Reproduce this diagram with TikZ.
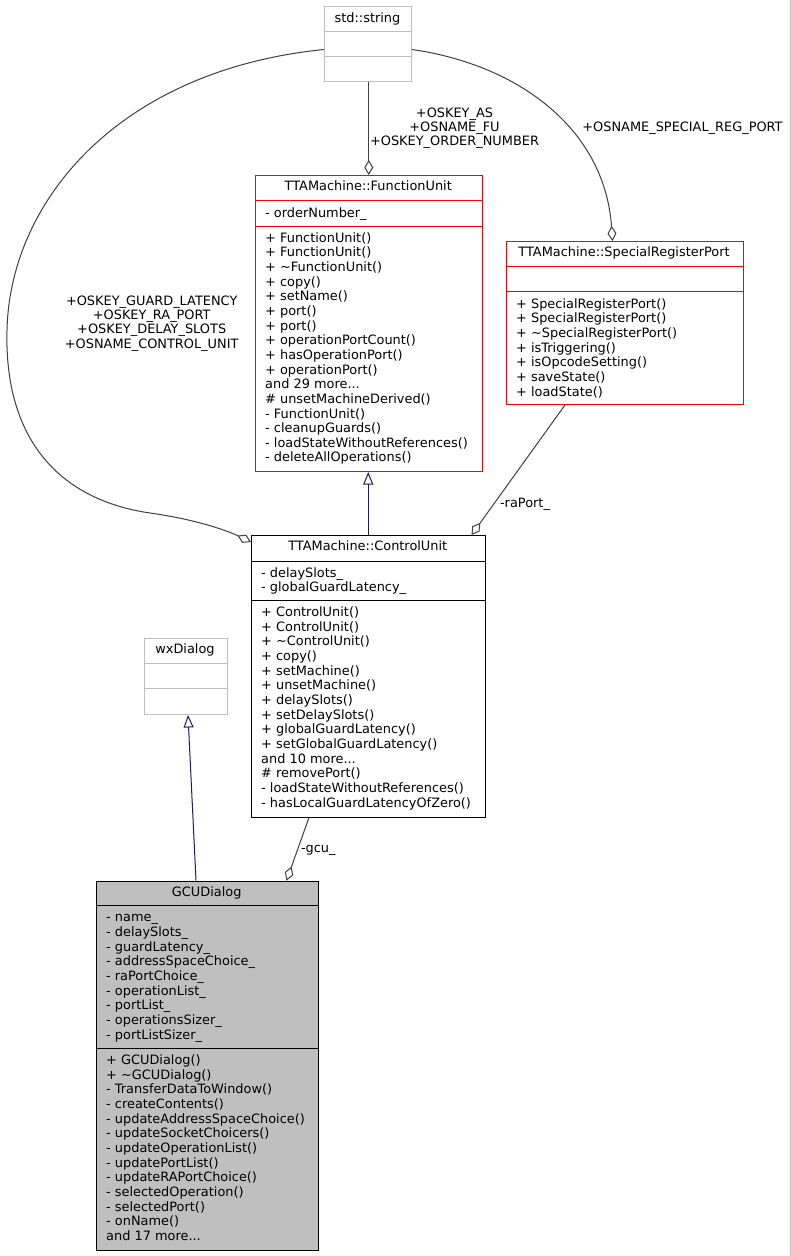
\documentclass[tikz,border=0pt]{standalone}
\usepackage{fontspec}
\setmainfont{DejaVu Sans}
\usetikzlibrary{arrows.meta,calc}
\definecolor{edgegray}{HTML}{404040}
\definecolor{boxgray}{HTML}{BFBFBF}
\definecolor{fillgray}{HTML}{BFBFBF}
\definecolor{navyline}{HTML}{191970}
\definecolor{redline}{HTML}{FF0000}
\tikzset{
  txt/.style={inner sep=0pt, font=\fontsize{12.9pt}{14.65pt}\selectfont, text=black},
  classbox/.style={draw, line width=1pt, inner sep=0pt, anchor=north west},
  edge/.style={draw=edgegray, line width=1pt},
  inherit/.style={draw=navyline, line width=1pt, -{Triangle[open, length=12.5pt, width=10pt]}},
  aggr/.style={-{Diamond[open, length=15pt, width=9pt]}},
  aggrs/.style={{Diamond[open, length=15pt, width=9pt]}-},
}
\newcommand\mlines[4]{%
  \foreach \t [count=\i from 0] in {#4}
    \node[txt, anchor=base west] (#1-\i) at (#2, #3+\i*14.65) {\t};}
\newcommand\clines[4]{%
  \foreach \t [count=\i from 0] in {#4}
    \node[txt, anchor=base] (#1-\i) at (#2, #3+\i*14.45) {\t};}
\begin{document}
\begin{tikzpicture}[x=1pt,y=-1pt]
\useasboundingbox (0,0) rectangle (791,1256);
\fill[white] (0,0) rectangle (791,1256);
\draw[boxgray, line width=1pt] (790.5,0) -- (790.5,1256);

% std::string
\node[classbox, draw=boxgray, minimum width=87pt, minimum height=75pt] (str) at (324,6) {};
\draw[boxgray, line width=1pt] (324,31.5) -- (411,31.5) (324,56.5) -- (411,56.5);
\node[txt, anchor=base] (strt) at (367.5,22) {std::string};

% FunctionUnit
\node[classbox, draw=redline, minimum width=226.5pt, minimum height=296pt] (fu) at (255,175) {};
\draw[redline, line width=1pt] (255,200.7) -- (481.5,200.7) (255,226) -- (481.5,226);
\node[txt, anchor=base] (fut) at (368.25,190.5) {TTAMachine::FunctionUnit};
\mlines{fua}{265}{217}{- orderNumber\_}
\mlines{fum}{265}{242.2}{+ FunctionUnit(), + FunctionUnit(), + \textasciitilde FunctionUnit(), + copy(), + setName(), + port(), + port(), + operationPortCount(), + hasOperationPort(), + operationPort(), {and 29 more.{}..}, \# unsetMachineDerived(), - FunctionUnit(), - cleanupGuards(), - loadStateWithoutReferences(), - deleteAllOperations()}

% SpecialRegisterPort
\node[classbox, draw=redline, minimum width=237pt, minimum height=163pt] (srp) at (505.5,241) {};
\draw[redline, line width=1pt] (505.5,266) -- (742.5,266) (505.5,291.7) -- (742.5,291.7);
\node[txt, anchor=base] (srpt) at (624,256.5) {TTAMachine::SpecialRegisterPort};
\mlines{srpm}{516}{308.2}{+ SpecialRegisterPort(), + SpecialRegisterPort(), + \textasciitilde SpecialRegisterPort(), + isTriggering(), + isOpcodeSetting(), + saveState(), + loadState()}

% ControlUnit
\node[classbox, draw=black, minimum width=233.5pt, minimum height=281.5pt] (cu) at (251,535) {};
\draw[black, line width=1pt] (251,561) -- (484.5,561) (251,600.3) -- (484.5,600.3);
\node[txt, anchor=base] (cut) at (367.75,550.7) {TTAMachine::ControlUnit};
\mlines{cua}{261}{577}{- delaySlots\_, - globalGuardLatency\_}
\mlines{cum}{261}{616.6}{+ ControlUnit(), + ControlUnit(), + \textasciitilde ControlUnit(), + copy(), + setMachine(), + unsetMachine(), + delaySlots(), + setDelaySlots(), + globalGuardLatency(), + setGlobalGuardLatency(), {and 10 more.{}..}, \# removePort(), - loadStateWithoutReferences(), - hasLocalGuardLatencyOfZero()}

% wxDialog
\node[classbox, draw=boxgray, minimum width=83pt, minimum height=76.5pt] (wx) at (143.5,637.5) {};
\draw[boxgray, line width=1pt] (143.5,663.3) -- (226.5,663.3) (143.5,688.7) -- (226.5,688.7);
\node[txt, anchor=base] (wxt) at (185,653.5) {wxDialog};

% GCUDialog
\node[classbox, draw=black, fill=fillgray, line width=1.2pt, minimum width=222pt, minimum height=369.3pt] (gcu) at (95.7,880.7) {};
\draw[black, line width=1.2pt] (95.7,905.3) -- (317.7,905.3) (95.7,1048.7) -- (317.7,1048.7);
\node[txt, anchor=base] (gcut) at (206.7,896) {GCUDialog};
\mlines{gcua}{106}{921.8}{- name\_, - delaySlots\_, - guardLatency\_, - addressSpaceChoice\_, - raPortChoice\_, - operationList\_, - portList\_, - operationsSizer\_, - portListSizer\_}
\mlines{gcum}{106}{1064.6}{+ GCUDialog(), + \textasciitilde GCUDialog(), - TransferDataToWindow(), - createContents(), - updateAddressSpaceChoice(), - updateSocketChoicers(), - updateOperationList(), - updatePortList(), - updateRAPortChoice(), - selectedOperation(), - selectedPort(), - onName(), {and 17 more.{}..}}

% edges
\draw[edge, aggr] (str.south -| fu.north) -- (fu.north);
\clines{l1}{454.5}{117}{+OSKEY\_AS, +OSNAME\_FU, +OSKEY\_ORDER\_NUMBER}

\draw[edge, aggr] ($(str.west)+(0,5.5)$) .. controls (120,70) and (10,200) .. (7,330)
   .. controls (4,440) and (60,500) .. (150,513)
   .. controls (200,520) and (230,532) .. ($(cu.north west)+(0,7)$);
\clines{l2}{151.7}{305}{+OSKEY\_GUARD\_LATENCY, +OSKEY\_RA\_PORT, +OSKEY\_DELAY\_SLOTS, +OSNAME\_CONTROL\_UNIT}

\draw[edge, aggr] ($(str.east)+(0,5.5)$) .. controls (520,65) and (605,130) .. ($(srp.north)+(-12,0)$);
\node[txt, anchor=base] (l3) at (682.5,131.7) {+OSNAME\_SPECIAL\_REG\_PORT};

\draw[inherit] (cu.north) -- (cu.north |- fu.south);

\draw[edge, aggrs] ($(cu.north east)+(-14,0)$) -- ($(srp.south west)+(59.5,0)$);
\node[txt, anchor=base] (l4) at (525,507.7) {-raPort\_};

\draw[edge, aggrs] ($(gcu.north west)+(190.8,0)$) -- ($(cu.south west)+(58,0)$);
\node[txt, anchor=base] (l5) at (318.3,852.5) {-gcu\_};

\draw[inherit] ($(gcu.north west)+(100.3,0)$) -- ($(wx.south)+(2.5,0)$);
\end{tikzpicture}
\end{document}
